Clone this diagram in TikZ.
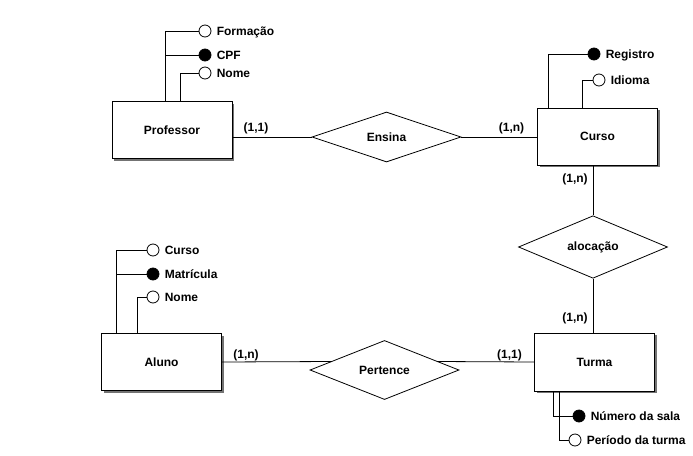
\documentclass[tikz,border=0pt]{standalone}
\usepackage{fontspec}
\setmainfont{Liberation Sans}
\usetikzlibrary{positioning,shapes.geometric,shadows}
\definecolor{shadowgray}{gray}{0.45}

\begin{document}
\begin{tikzpicture}[x=1pt, y=-1pt, line width=0.8pt, font=\bfseries\fontsize{12}{14}\selectfont,
	entity/.style={rectangle, draw, fill=white, minimum width=120pt, minimum height=57pt, drop shadow={shadow xshift=2pt, shadow yshift=-2pt, fill=shadowgray, opacity=1}},
	rel/.style={diamond, draw, fill=white, inner sep=0pt, minimum width=149pt, minimum height=50pt},
	attr/.style={circle, draw, fill=white, inner sep=0pt, minimum size=12pt},
	key/.style={attr, fill=black},
	txt/.style={inner sep=0pt, text height=8.6pt, text depth=0pt},
	card/.style={inner sep=0pt}]
	\fill[white] (0,0) rectangle (693,455);
	\useasboundingbox (0,0) rectangle (693,455);
	\node[entity] (professor) at (172,130) {Professor};
	\node[entity] (curso) at (597.5,136.5) {Curso};
	\node[entity] (aluno) at (161.5,362) {Aluno};
	\node[entity, minimum height=58pt] (turma) at (594.5,362) {Turma};
	\node[rel] (ensina) at (386.5,137) {Ensina};
	\node[rel] (alocacao) at (593,247) {alocação};
	\node[rel] (pertence) at (384.5,370) {Pertence};
	\node[attr] (formacao) at (205,31) {};
	\node[key] (cpf) at (205,55) {};
	\node[attr] (nomeprof) at (205,73) {};
	\node[txt] (lformacao) [right=5pt of formacao] {Formação};
	\node[txt] (lcpf) [right=5pt of cpf] {CPF};
	\node[txt] (lnomeprof) [right=5pt of nomeprof] {Nome};
	\node[key] (registro) at (594,54) {};
	\node[attr] (idioma) at (599,80) {};
	\node[txt] (lregistro) [right=5pt of registro] {Registro};
	\node[txt] (lidioma) [right=5pt of idioma] {Idioma};
	\node[attr] (cursoal) at (153,250) {};
	\node[key] (matricula) at (153,274) {};
	\node[attr] (nomeal) at (153,297) {};
	\node[txt] (lcursoal) [right=5pt of cursoal] {Curso};
	\node[txt] (lmatricula) [right=5pt of matricula] {Matrícula};
	\node[txt] (lnomeal) [right=5pt of nomeal] {Nome};
	\node[key] (numero) at (579,416) {};
	\node[attr] (periodo) at (575,440) {};
	\node[txt] (lnumero) [right=5pt of numero] {Número da sala};
	\node[txt] (lperiodo) [right=5pt of periodo] {Período da turma};
	\node[card] (cprof) at (256,128) {(1,1)};
	\node[card] (ccurso) at (511.5,128) {(1,n)};
	\node[card] (ccursob) at (575,179) {(1,n)};
	\node[card] (cturmat) at (575,318) {(1,n)};
	\node[card] (caluno) at (246,355) {(1,n)};
	\node[card] (cturma) at (509.5,355) {(1,1)};
	\draw (professor.east |- ensina) -- (ensina.west);
	\draw (ensina.east) -- (curso.west |- ensina);
	\draw (curso.south -| alocacao) -- (alocacao.north);
	\draw (alocacao.south) -- (turma.north -| alocacao);
	\draw (aluno.east) -- (pertence.171);
	\draw (pertence.9) -- (turma.west);
	\draw ([xshift=54pt]professor.north west) |- (formacao.west);
	\draw ([xshift=54pt]professor.north west) |- (cpf.west);
	\draw ([xshift=69pt]professor.north west) |- (nomeprof.west);
	\draw ([xshift=11.5pt]curso.north west) |- (registro.west);
	\draw ([xshift=45.5pt]curso.north west) |- (idioma.west);
	\draw ([xshift=15.5pt]aluno.north west) |- (cursoal.west);
	\draw ([xshift=15.5pt]aluno.north west) |- (matricula.west);
	\draw ([xshift=36.5pt]aluno.north west) |- (nomeal.west);
	\draw ([xshift=19pt]turma.south west) |- (numero.west);
	\draw ([xshift=25pt]turma.south west) |- (periodo.west);
\end{tikzpicture}
\end{document}
